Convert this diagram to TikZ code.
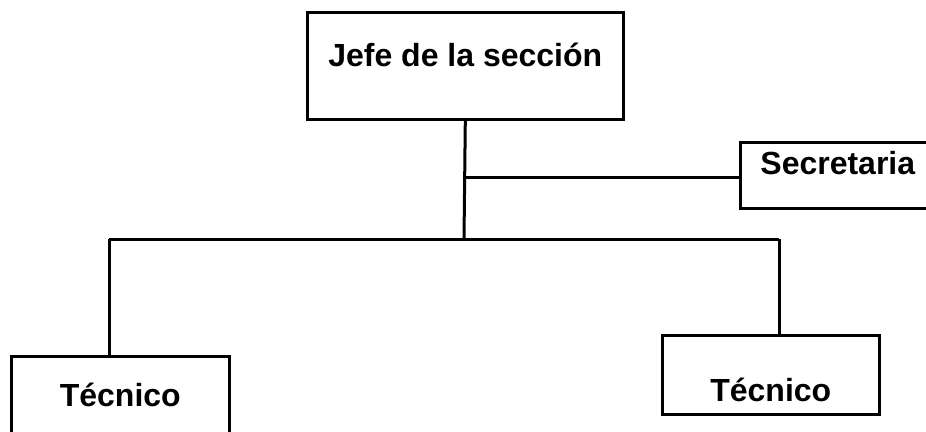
\documentclass[tikz,border=0pt]{standalone}
\usepackage{fontspec}
\setmainfont{Liberation Sans}
\tikzset{
  puesto/.style={draw, line width=2.6pt, inner sep=0pt, anchor=north west,
    align=center, font=\bfseries\fontsize{32}{38}\selectfont},
  linea/.style={line width=3pt}
}
\begin{document}
\begin{tikzpicture}[x=1pt, y=-1pt]
      \useasboundingbox (0,0) rectangle (926,431);
      \clip (0,0) rectangle (926,431);
      \draw
        (306,11) node[puesto, minimum width=316pt, text height=54pt, text depth=53pt] (jefe){Jefe de la sección}
        (739,141) node[puesto, minimum width=195pt, text height=32pt, text depth=34pt] (secre){Secretaria}
        (10,355) node[puesto, minimum width=218pt, text height=50pt, text depth=40pt] (tec1){Técnico}
        (661,334) node[puesto, minimum width=217pt, text height=66pt, text depth=13pt] (tec2){Técnico};
      \coordinate (bus) at (464,239);
      \coordinate (busL) at (109,239);
      \coordinate (busR) at (779,239);
      \coordinate (rama) at (464,177);
      \begin{scope}[linea]
        \draw (jefe.south) to (bus);
        \draw (rama) to (rama -| secre.west);
        \draw (busL) to (busR);
        \draw (busL) to (busL |- tec1.north);
        \draw (busR) to (busR |- tec2.north);
      \end{scope}
    \end{tikzpicture}
\end{document}
